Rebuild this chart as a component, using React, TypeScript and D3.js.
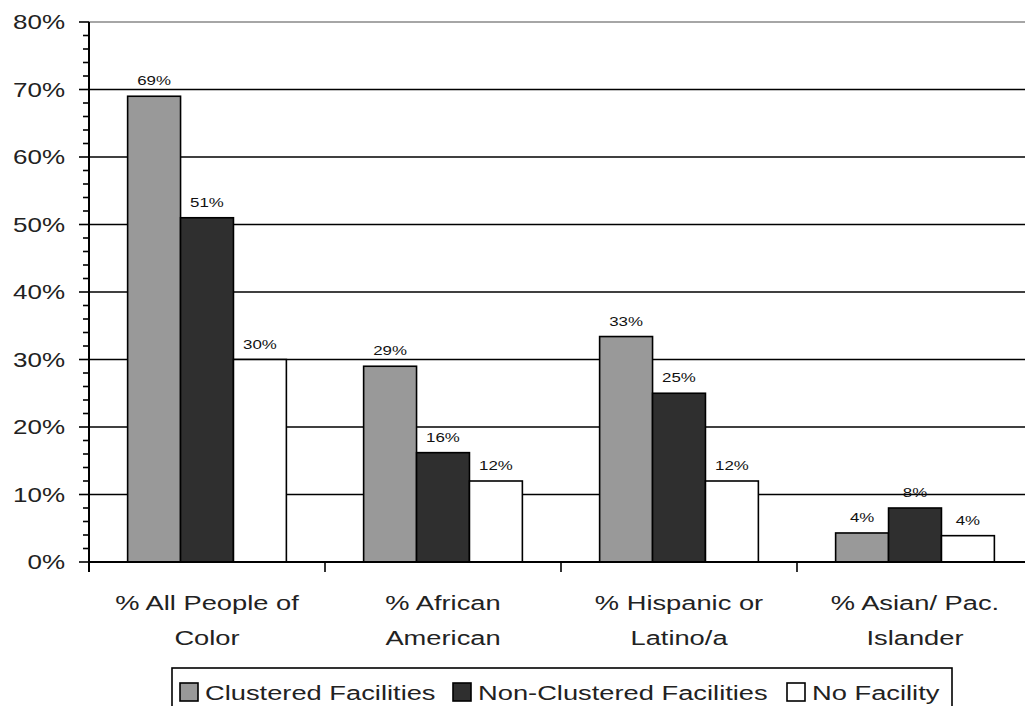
import React from 'react';
import * as d3 from 'd3';

const categories = [
  ['% All People of', 'Color'],
  ['% African', 'American'],
  ['% Hispanic or', 'Latino/a'],
  ['% Asian/ Pac.', 'Islander'],
];
const seriesNames = ['Clustered Facilities', 'Non-Clustered Facilities', 'No Facility'];
const seriesColors = ['#999999', '#2f2f2f', '#ffffff'];
const clustered = [69, 29, 33.4, 4.3];
const nonClustered = [51, 16.2, 25, 8];
const noFacility = [30, 12, 12, 3.9];
const yTicks = [0, 10, 20, 30, 40, 50, 60, 70, 80];

const W = 1025;
const H = 706;
const left = 89;
const top = 22;
const bottom = 562;
const bandW = 236;
const SX = 1.3;
const font = '"Liberation Sans", Arial, sans-serif';

export default function App() {
  const series = [clustered, nonClustered, noFacility];
  const x = d3.scaleBand<number>()
    .domain(d3.range(categories.length))
    .range([left, left + bandW * categories.length])
    .paddingInner(0)
    .paddingOuter(0);
  const inner = d3.scaleBand<number>()
    .domain(d3.range(series.length))
    .range([0, x.bandwidth()])
    .paddingOuter(0.73)
    .paddingInner(0);
  const y = d3.scaleLinear().domain([0, 80]).range([bottom, top]);
  const minor = d3.range(0, 80.1, 2);

  const legendX = [180, 453, 787];

  return (
    <svg width={W} height={H} style={{ position: 'absolute', left: 0, top: 0, background: '#fff' }}
      fontFamily={font}>
      {/* gridlines */}
      {yTicks.filter(t => t > 0).map(t => (
        <line key={'g' + t} x1={left} x2={W} y1={y(t)} y2={y(t)}
          stroke={t === 80 ? '#888' : '#000'} strokeWidth={1.6} />
      ))}

      {/* bars */}
      {series.map((vals, s) => vals.map((v, i) => (
        <rect key={`b${s}-${i}`} x={x(i)! + inner(s)!} y={y(v)} width={inner.bandwidth()}
          height={y(0) - y(v)} fill={seriesColors[s]} stroke="#000" strokeWidth={1.6} />
      )))}

      {/* data labels */}
      {series.map((vals, s) => vals.map((v, i) => (
        <text key={`l${s}-${i}`} transform={`translate(${x(i)! + inner(s)! + inner.bandwidth() / 2},${y(v) - 11}) scale(${SX},1)`}
          textAnchor="middle" fontSize={13} fill="#111">{Math.round(v)}%</text>
      )))}

      {/* y axis */}
      <line x1={left} x2={left} y1={top} y2={bottom + 10} stroke="#000" strokeWidth={2} />
      {minor.map(t => (
        <line key={'m' + t} x1={t % 10 === 0 ? left - 10 : left - 6} x2={left} y1={y(t)} y2={y(t)}
          stroke="#000" strokeWidth={1.6} />
      ))}
      {yTicks.map(t => (
        <text key={'yt' + t} transform={`translate(${left - 24},${y(t) + 7}) scale(${SX},1)`}
          textAnchor="end" fontSize={20} fill="#222">{t}%</text>
      ))}

      {/* x axis */}
      <line x1={left} x2={W} y1={bottom} y2={bottom} stroke="#000" strokeWidth={2} />
      {categories.map((_, i) => (
        <line key={'xt' + i} x1={x(i)! + bandW} x2={x(i)! + bandW} y1={bottom} y2={bottom + 10}
          stroke="#000" strokeWidth={1.6} />
      ))}
      {categories.map((c, i) => c.map((line, j) => (
        <text key={`c${i}-${j}`} transform={`translate(${x(i)! + bandW / 2},${610 + j * 35}) scale(${SX},1)`}
          textAnchor="middle" fontSize={21} fill="#222">{line}</text>
      )))}

      {/* legend */}
      <rect x={172} y={668} width={780} height={50} fill="#fff" stroke="#000" strokeWidth={1.6} />
      {seriesNames.map((n, s) => (
        <g key={'lg' + s}>
          <rect x={legendX[s]} y={683} width={18} height={18} fill={seriesColors[s]} stroke="#000" strokeWidth={1.6} />
          <text transform={`translate(${legendX[s] + 25},700) scale(${SX},1)`} fontSize={21} fill="#222">{n}</text>
        </g>
      ))}
    </svg>
  );
}
